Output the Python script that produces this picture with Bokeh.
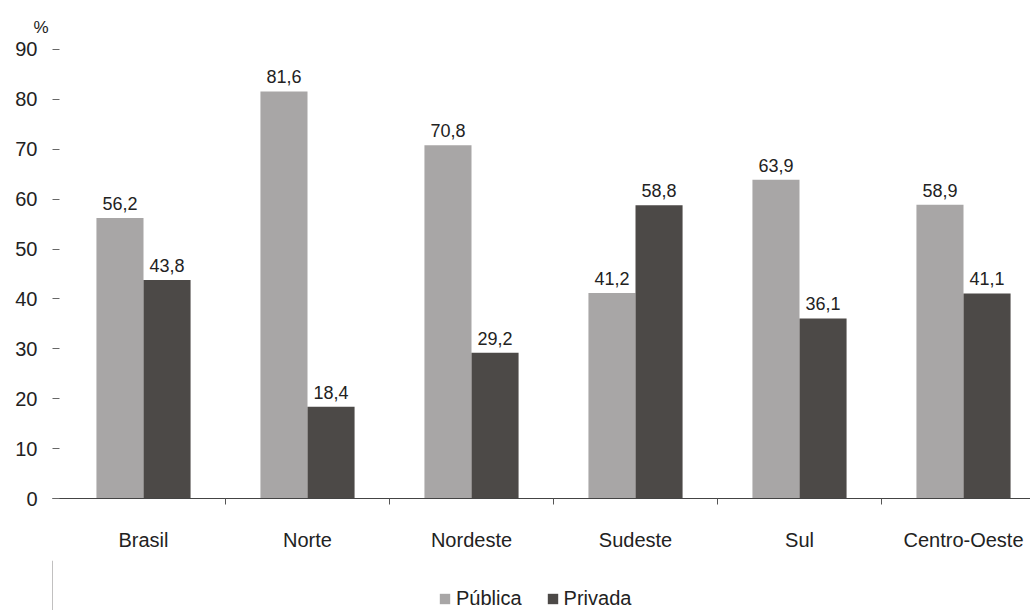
from bokeh.plotting import figure
from bokeh.layouts import column
from bokeh.models import (ColumnDataSource, Range1d, FixedTicker, Legend, LegendItem, Title)
from bokeh.core.properties import value
from bokeh.embed import file_html
from bokeh.resources import INLINE
import numpy as np

# Share of enrolments by network, per region (%)
regions = ["Brasil", "Norte", "Nordeste", "Sudeste", "Sul", "Centro-Oeste"]
publica = [56.2, 81.6, 70.8, 41.2, 63.9, 58.9]
privada = [43.8, 18.4, 29.2, 58.8, 36.1, 41.1]
series = ["Pública", "Privada"]
y_ticks = [0, 10, 20, 30, 40, 50, 60, 70, 80, 90]

FONT = "Liberation Sans"
TEXT = "#222222"
C_PUB = "#a8a6a6"
C_PRI = "#4c4947"

pos = np.arange(1, len(regions) + 1, dtype=float)
half = 0.1435
bw = 0.287

def fmt(v):
    return f"{v:.1f}".replace(".", ",")

src_pub = ColumnDataSource(dict(x=pos - half, top=publica, lbl=[fmt(v) for v in publica]))
src_pri = ColumnDataSource(dict(x=pos + half, top=privada, lbl=[fmt(v) for v in privada]))

p = figure(width=1030, height=560,
           x_range=Range1d(0.4451, 6.4085), y_range=Range1d(0, 92),
           output_backend="svg", toolbar_location=None,
           min_border_left=52, min_border_right=0, min_border_top=39, min_border_bottom=62)
p.outline_line_color = None
p.grid.visible = False

p.add_layout(Title(text="%", align="left", offset=-19, standoff=5, text_font=FONT,
                   text_font_size="17px", text_font_style="normal", text_color=TEXT), "above")

p.vbar(x="x", top="top", width=bw, source=src_pub, fill_color=C_PUB, line_color=None)
p.vbar(x="x", top="top", width=bw, source=src_pri, fill_color=C_PRI, line_color=None)

for src in (src_pub, src_pri):
    p.text(x="x", y="top", text="lbl", source=src, text_align="center", text_baseline="bottom",
           y_offset=-8, text_font=value(FONT), text_font_size="18px", text_color=TEXT)

# x axis: region names under each pair, small ticks between regions
xa = p.xaxis[0]
xa.ticker = FixedTicker(ticks=list(pos), minor_ticks=list(pos[:-1] + 0.5))
xa.major_label_overrides = {int(k): r for k, r in zip(pos, regions)}
xa.major_tick_in = 0
xa.major_tick_out = 0
xa.minor_tick_in = 0
xa.minor_tick_out = 6
xa.minor_tick_line_color = "#555555"
xa.axis_line_color = "#444444"
xa.major_label_standoff = 24
xa.major_label_text_font = FONT
xa.major_label_text_font_size = "20px"
xa.major_label_text_color = TEXT

ya = p.yaxis[0]
ya.ticker = FixedTicker(ticks=y_ticks)
ya.axis_line_color = None
ya.major_tick_in = 7
ya.major_tick_out = 0
ya.major_tick_line_color = "#666666"
ya.minor_tick_line_color = None
ya.major_label_standoff = 15
ya.major_label_text_font = FONT
ya.major_label_text_font_size = "20px"
ya.major_label_text_color = TEXT

# legend strip under the chart; its swatch renderers hold one point kept off-view
lg = figure(width=1030, height=50, x_range=Range1d(0, 1), y_range=Range1d(0, 1),
            x_axis_type=None, y_axis_type=None, output_backend="svg", toolbar_location=None,
            min_border=0)
lg.outline_line_color = None
lg.grid.visible = False
k_pub = lg.vbar(x="x", top="top", width=0.1, source=ColumnDataSource(dict(x=[-10], top=[1])),
                fill_color=C_PUB, line_color=None)
k_pri = lg.vbar(x="x", top="top", width=0.1, source=ColumnDataSource(dict(x=[-10], top=[1])),
                fill_color=C_PRI, line_color=None)
legend = Legend(items=[LegendItem(label=series[0], renderers=[k_pub]),
                       LegendItem(label=series[1], renderers=[k_pri])],
                orientation="horizontal", location=(386, 0),
                label_text_font=FONT, label_text_font_size="20px", label_text_color=TEXT,
                glyph_width=13, glyph_height=13, spacing=24, padding=2, margin=0,
                border_line_color=None, background_fill_alpha=0)
lg.add_layout(legend)

open("out.html", "w").write(file_html(column(p, lg, spacing=0), INLINE))
